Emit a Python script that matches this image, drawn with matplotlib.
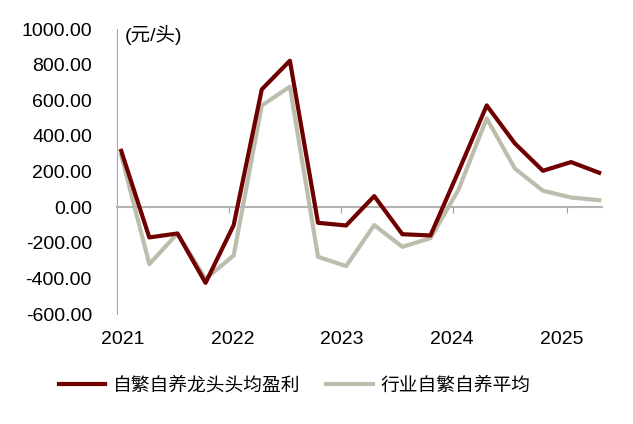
import numpy as np
import matplotlib
matplotlib.use('Agg')
import matplotlib.pyplot as plt
import matplotlib.transforms as mtransforms

plt.rcParams['font.family'] = ['Liberation Sans', 'Noto Sans CJK SC', 'DejaVu Sans']

# quarterly data, 2021Q1 .. 2025Q2
leader = [316, -170, -148, -425, -101, 661, 822, -88, -103, 62,
          -152, -159, 202, 571, 358, 204, 253, 193]
industry = [292, -320, -148, -403, -271, 571, 676, -279, -331, -101,
            -223, -174, 99, 498, 217, 92, 54, 39]
years = ['2021', '2022', '2023', '2024', '2025']
yticks = [-600, -400, -200, 0, 200, 400, 600, 800, 1000]
name_leader = '自繁自养龙头头均盈利'
name_industry = '行业自繁自养平均'

x = np.arange(len(leader))

fig = plt.figure(figsize=(6.33, 4.24), dpi=100)
ax = fig.add_axes([0.1848, 0.2594, 0.951 - 0.1848, 0.9316 - 0.2594])

ax.plot(x, leader, color='#700000', lw=3, label=name_leader, zorder=3)
ax.plot(x, industry, color='#BDBDAD', lw=3, label=name_industry, zorder=2)

ax.set_xlim(-0.15, 17.1)
ax.set_ylim(-600, 1000)
ax.set_yticks(yticks)
ax.set_yticklabels(['%.2f' % v for v in yticks], fontsize=14)
ax.tick_params(axis='y', length=0, pad=18)

# year separators on the zero line
ax.spines['bottom'].set_position(('data', 0))
ax.spines['bottom'].set_color('#B4B4B4')
ax.spines['bottom'].set_linewidth(1.5)
ax.spines['left'].set_color('#A8A8A8')
ax.spines['top'].set_visible(False)
ax.spines['right'].set_visible(False)
ax.set_xticks([3.84, 7.83, 11.81, 15.84])
ax.set_xticklabels([])
ax.tick_params(axis='x', length=4, color='#A0A0A0', direction='out')

trans = mtransforms.blended_transform_factory(ax.transData, ax.transAxes)
for i, yr in enumerate(years):
    pos = [0.05, 3.95, 7.86, 11.77, 15.68][i]
    ax.text(pos, -0.091, yr, transform=trans, ha='center', va='center', fontsize=14)

ax.text(0.015, 0.98, '(元/头)', transform=ax.transAxes, ha='left', va='center', fontsize=14)

fig.legend(loc='center', bbox_to_anchor=(0.465, 0.089), ncol=2, frameon=False,
           fontsize=13.5, handlelength=2.5, handletextpad=0.4, columnspacing=1.35)

fig.savefig('out.png', dpi=100)
